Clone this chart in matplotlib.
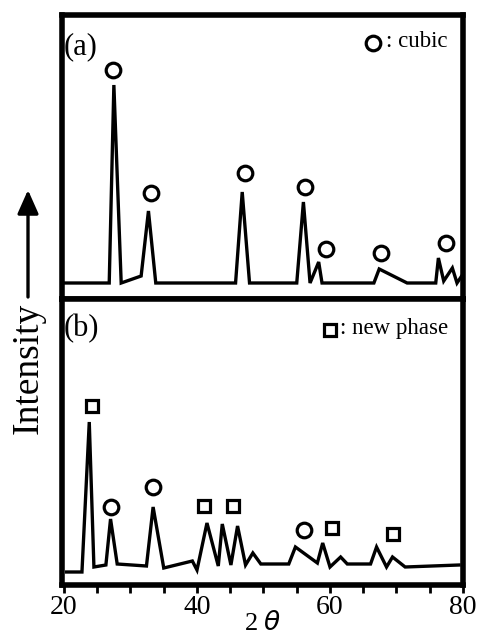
import matplotlib
matplotlib.use("Agg")
import matplotlib.pyplot as plt

plt.rcParams['font.family'] = ['Liberation Serif', 'DejaVu Serif']
plt.rcParams['mathtext.fontset'] = 'dejavusans'

# ---- data (2theta, intensity in arbitrary units) ----
a_two_theta = [20.1, 26.8, 27.5, 28.6, 31.6, 32.7, 33.8, 45.8, 46.8, 47.9, 55.0, 56.0,
               57.0, 58.3, 58.8, 66.6, 67.4, 71.6, 75.9, 76.3, 77.1, 78.4, 79.1, 79.9]
a_intensity = [16, 16, 214, 16, 23, 88, 16, 16, 107, 16, 16, 97,
               16, 37, 16, 16, 30, 16, 16, 41, 18, 31, 16, 24]

a_cubic_x = [27.4, 33.1, 47.2, 56.3, 59.4, 67.7, 77.5]
a_cubic_y = [229, 106, 126, 112, 50, 46, 56]

b_two_theta = [20.4, 22.7, 23.8, 24.5, 26.3, 27.0, 28.0, 32.4, 33.4, 35.0, 39.3, 40.0,
               41.5, 43.2, 43.8, 45.1, 46.1, 47.3, 48.4, 49.6, 53.8, 54.8, 58.1, 58.9,
               60.0, 61.6, 62.6, 66.1, 67.0, 68.5, 69.4, 71.3, 79.4]
b_intensity = [13, 13, 163, 18, 20, 66, 21, 19, 78, 17, 24, 15,
               62, 19, 61, 20, 59, 20, 32, 21, 21, 38, 22, 42,
               18, 28, 21, 21, 38, 18, 28, 18, 20]

b_new_x = [24.2, 41.1, 45.4, 60.3, 69.5]
b_new_y = [179, 79, 79, 57, 51]
b_cubic_x = [27.0, 33.4, 56.1]
b_cubic_y = [78, 98, 55]

xticks_major = [20, 40, 60, 80]
xticks_minor = [25, 30, 35, 45, 50, 55, 65, 70, 75]

W, H = 481, 638
fig = plt.figure(figsize=(W / 100, H / 100), dpi=100)

left = 62 / W
width = (463 - 62) / W
ax_a = fig.add_axes([left, 1 - 299 / H, width, (299 - 15) / H])
ax_b = fig.add_axes([left, 1 - 585 / H, width, (585 - 299) / H])

lw_line = 2.4
lw_frame = 4.0
circ = dict(marker='o', ms=10.5, mew=2.3, mfc='none', mec='black', ls='none')
sq = dict(marker='s', ms=9.0, mew=2.3, mfc='none', mec='black', ls='none')

for ax in (ax_a, ax_b):
    ax.set_xlim(19.7, 80)
    for s in ax.spines.values():
        s.set_linewidth(lw_frame)
    ax.set_yticks([])

ax_a.set_ylim(0, 284)
ax_b.set_ylim(0, 286)

ax_a.plot(a_two_theta, a_intensity, color='black', lw=lw_line, solid_joinstyle='miter')
ax_a.plot(a_cubic_x, a_cubic_y, **circ)
ax_a.tick_params(axis='x', which='both', bottom=False, labelbottom=False)

ax_b.plot(b_two_theta, b_intensity, color='black', lw=lw_line, solid_joinstyle='miter')
ax_b.plot(b_new_x, b_new_y, **sq)
ax_b.plot(b_cubic_x, b_cubic_y, **circ)

ax_b.set_xticks(xticks_major)
ax_b.set_xticks(xticks_minor, minor=True)
ax_b.tick_params(axis='x', which='both', direction='out', length=5.5, width=2,
                 labelsize=20, pad=2)
ax_b.set_xlabel('2 $\\theta$', fontsize=19, labelpad=-7)

# panel labels and legends
ax_a.text(0.005, 0.89, '(a)', transform=ax_a.transAxes, fontsize=22,
          ha='left', va='center')
ax_a.plot([0.776], [0.902], transform=ax_a.transAxes, clip_on=False, **circ)
ax_a.text(0.808, 0.905, ': cubic', transform=ax_a.transAxes, fontsize=16.5,
          ha='left', va='center')

ax_b.text(0.005, 0.897, '(b)', transform=ax_b.transAxes, fontsize=22,
          ha='left', va='center')
ax_b.plot([0.668], [0.893], transform=ax_b.transAxes, clip_on=False, **sq)
ax_b.text(0.693, 0.897, ': new phase', transform=ax_b.transAxes, fontsize=16.5,
          ha='left', va='center')

# Intensity label with arrow
fig.text(28 / W, 1 - 368 / H, 'Intensity', rotation=90, fontsize=27,
         ha='center', va='center')
fig.patches.append(matplotlib.patches.FancyArrowPatch(
    (28 / W, 1 - 297 / H), (28 / W, 1 - 190 / H), transform=fig.transFigure,
    arrowstyle='-|>,head_length=9,head_width=4', lw=2.4, color='black',
    shrinkA=0, shrinkB=0, mutation_scale=1.6))

fig.savefig('out.png', dpi=100)
